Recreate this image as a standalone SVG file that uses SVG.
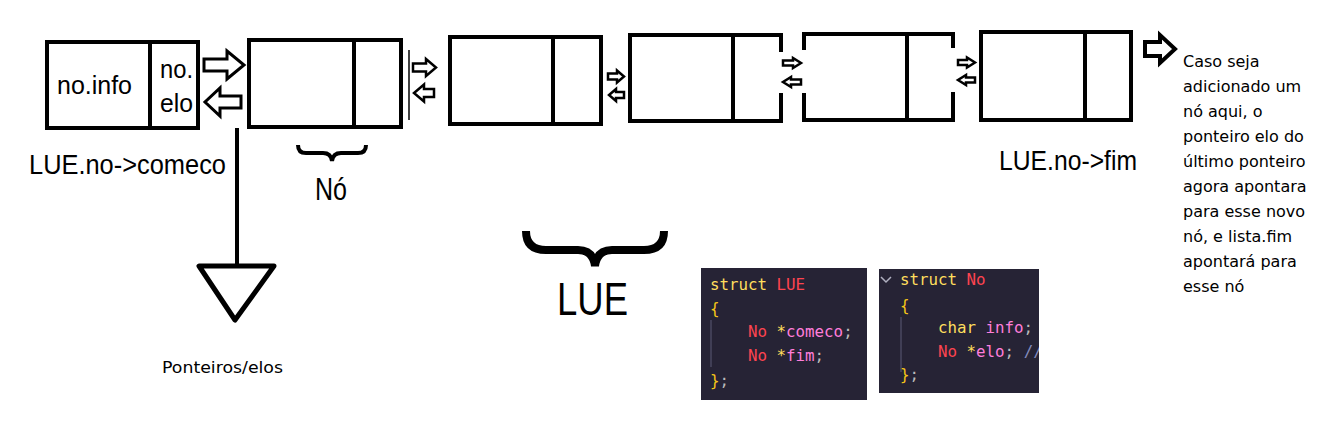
<svg xmlns="http://www.w3.org/2000/svg" width="1320" height="442" viewBox="0 0 1320 442">
<defs>
<style>
.box{fill:#fff;stroke:#000;stroke-width:4}
.div{stroke:#000;stroke-width:4}
.arr{fill:#fff;stroke:#000;stroke-width:3;stroke-linejoin:miter}
.arrs{fill:#fff;stroke:#000;stroke-width:2.5;stroke-linejoin:miter}
.lbl{font-family:"Liberation Sans",Arial,sans-serif;fill:#000}
.note{font-family:"DejaVu Sans",Verdana,sans-serif;font-size:16px;fill:#000}
.code{font-family:"DejaVu Sans Mono","Liberation Mono",monospace;font-size:15.8px;white-space:pre}
.kw{fill:#fede5d}.ty{fill:#fe4450}.id{fill:#ff7edb}.pu{fill:#bbbbbb}.br{fill:#f5c518}.cm{fill:#848bbd}
.panel{fill:#262335}
.guide{stroke:#4a4860;stroke-width:1.5}
</style>
<clipPath id="clip2"><rect x="879" y="269" width="160" height="124"/></clipPath>
</defs>
<rect width="1320" height="442" fill="#fff"/>

<g id="node1">
<rect class="box" x="47" y="42" width="151" height="86"/>
<line class="div" x1="150" y1="42" x2="150" y2="128"/>
<text class="lbl" x="57" y="94" font-size="26" textLength="75" lengthAdjust="spacingAndGlyphs">no.info</text>
<text class="lbl" x="160" y="78" font-size="26" textLength="33" lengthAdjust="spacingAndGlyphs">no.</text>
<text class="lbl" x="160" y="112" font-size="26" textLength="33" lengthAdjust="spacingAndGlyphs">elo</text>
</g>
<g id="node2">
<rect class="box" x="249" y="40" width="152" height="87"/>
<line class="div" x1="354" y1="40" x2="354" y2="127"/>
</g>
<g id="node3">
<rect class="box" x="450" y="37" width="151" height="87"/>
<line class="div" x1="553" y1="37" x2="553" y2="124"/>
</g>
<g id="node4">
<rect class="box" x="630" y="35" width="151" height="86"/>
<line class="div" x1="733" y1="35" x2="733" y2="121"/>
<rect x="778" y="52" width="6" height="41" fill="#fff"/>
</g>
<g id="node5">
<rect class="box" x="804" y="34" width="149" height="86"/>
<line class="div" x1="907" y1="34" x2="907" y2="120"/>
<rect x="801" y="50" width="6" height="43" fill="#fff"/>
<rect x="950" y="48" width="6" height="44" fill="#fff"/>
</g>
<g id="node6">
<rect class="box" x="981" y="32" width="150" height="88"/>
<line class="div" x1="1085" y1="32" x2="1085" y2="120"/>
</g>

<g id="connectors">
<polygon class="arr" points="204,59 227,59 227,51 244,65 227,79 227,71 204,71"/>
<polygon class="arr" points="241,96 220,96 220,88 205,102 220,116 220,108 241,108"/>
<line x1="409" y1="50" x2="409" y2="120" stroke="#000" stroke-width="1.5"/>
<polygon class="arrs" points="413,63.5 426,63.5 426,59 436,67.5 426,76 426,71.5 413,71.5"/>
<polygon class="arrs" points="434,89 424,89 424,84.5 414,93 424,101.5 424,97 434,97"/>
<polygon class="arrs" points="608,73.5 617,73.5 617,70.5 624,76.5 617,82.5 617,79.5 608,79.5"/>
<polygon class="arrs" points="624,92 616,92 616,89 609,95 616,101 616,98 624,98"/>
<polygon class="arrs" points="783,60.5 793,60.5 793,58 801,63 793,68 793,65.5 783,65.5"/>
<polygon class="arrs" points="801,79.5 791,79.5 791,77 783,82 791,87 791,84.5 801,84.5"/>
<polygon class="arrs" points="958,60 967,60 967,57.5 975,62.5 967,67.5 967,65 958,65"/>
<polygon class="arrs" points="975,77.5 966,77.5 966,75 958,80 966,85 966,82.5 975,82.5"/>
<polygon class="arr" style="stroke-width:4" points="1145,42 1160,42 1160,35 1175,49 1160,63 1160,56 1145,56"/>
<line x1="237" y1="128" x2="237" y2="268" stroke="#000" stroke-width="4"/>
<polygon points="199,266 274,266 235,320" fill="#fff" stroke="#000" stroke-width="5" stroke-linejoin="round"/>
</g>

<g id="labels">
<text class="lbl" x="29" y="174" font-size="27" textLength="197" lengthAdjust="spacingAndGlyphs">LUE.no-&gt;comeco</text>
<path d="M298,145 Q298,153 306,153 L323,153 Q331,153 332,161 Q333,153 341,153 L358,153 Q366,153 366,145" fill="none" stroke="#000" stroke-width="4"/>
<text class="lbl" x="315" y="200" font-size="31" textLength="32" lengthAdjust="spacingAndGlyphs">Nó</text>
<text class="lbl" x="999" y="170" font-size="28" textLength="138" lengthAdjust="spacingAndGlyphs">LUE.no-&gt;fim</text>
<path d="M526,231 Q526,250 546,250 L578,250 Q593,250 595,266 Q597,250 612,250 L644,250 Q664,250 664,231" fill="none" stroke="#000" stroke-width="8"/>
<text class="lbl" x="557" y="315" font-size="46" textLength="71" lengthAdjust="spacingAndGlyphs">LUE</text>
<text class="note" x="162" y="373" font-size="16" textLength="121" lengthAdjust="spacingAndGlyphs">Ponteiros/elos</text>
<text class="note" x="1183" y="67">Caso seja</text>
<text class="note" x="1183" y="92">adicionado um</text>
<text class="note" x="1183" y="117">nó aqui, o</text>
<text class="note" x="1183" y="142">ponteiro elo do</text>
<text class="note" x="1183" y="167">último ponteiro</text>
<text class="note" x="1183" y="192">agora apontara</text>
<text class="note" x="1183" y="217">para esse novo</text>
<text class="note" x="1183" y="242">nó, e lista.fim</text>
<text class="note" x="1183" y="267">apontará para</text>
<text class="note" x="1183" y="292">esse nó</text>
</g>

<g id="code-lue">
<rect class="panel" x="701" y="268" width="166" height="132"/>
<line class="guide" x1="711" y1="320" x2="711" y2="367"/>
<text class="code" x="710" y="290"><tspan class="kw">struct</tspan> <tspan class="ty">LUE</tspan></text>
<text class="code" x="710" y="314"><tspan class="br">{</tspan></text>
<text class="code" x="748" y="337"><tspan class="ty">No</tspan> <tspan class="kw">*</tspan><tspan class="id">comeco</tspan><tspan class="pu">;</tspan></text>
<text class="code" x="748" y="361"><tspan class="ty">No</tspan> <tspan class="kw">*</tspan><tspan class="id">fim</tspan><tspan class="pu">;</tspan></text>
<text class="code" x="710" y="386"><tspan class="br">}</tspan><tspan class="pu">;</tspan></text>
</g>

<g id="code-no">
<rect class="panel" x="879" y="269" width="160" height="124"/>
<g clip-path="url(#clip2)">
<polyline points="881,277 886,282 891,277" fill="none" stroke="#b0b0c0" stroke-width="1.5"/>
<line class="guide" x1="901" y1="317" x2="901" y2="372"/>
<text class="code" x="900" y="285"><tspan class="kw">struct</tspan> <tspan class="ty">No</tspan></text>
<text class="code" x="900" y="311"><tspan class="br">{</tspan></text>
<text class="code" x="938" y="333"><tspan class="kw">char</tspan> <tspan class="id">info</tspan><tspan class="pu">;</tspan></text>
<text class="code" x="938" y="357"><tspan class="ty">No</tspan> <tspan class="kw">*</tspan><tspan class="id">elo</tspan><tspan class="pu">;</tspan> <tspan class="cm">//</tspan></text>
<text class="code" x="900" y="380"><tspan class="br">}</tspan><tspan class="pu">;</tspan></text>
</g>
</g>
</svg>
